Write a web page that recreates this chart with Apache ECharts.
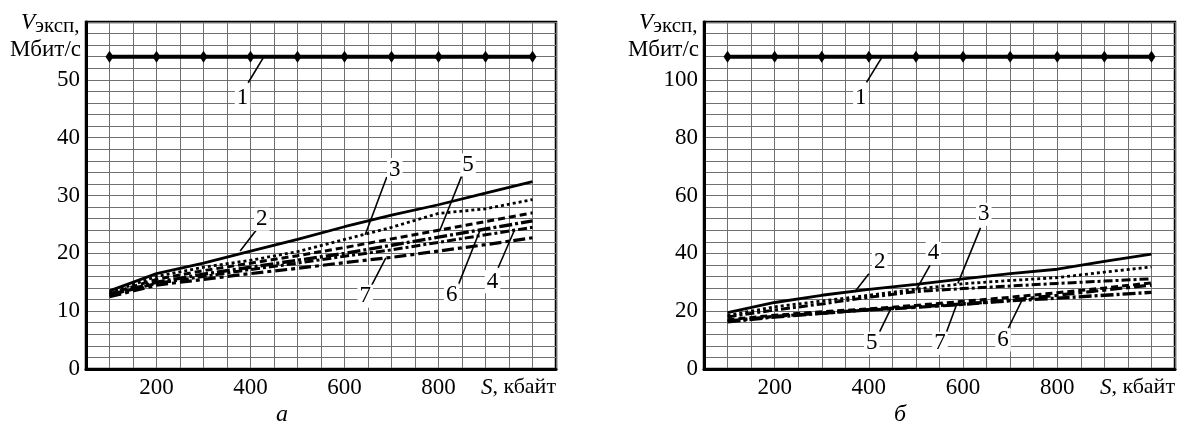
<!DOCTYPE html>
<html>
<head>
<meta charset="utf-8">
<script src="https://cdn.jsdelivr.net/npm/echarts@6/dist/echarts.min.js"></script>
<style>
html,body{margin:0;padding:0;background:#fff;}
#c{width:1180px;height:423px;}
</style>
</head>
<body>
<div id="c"></div>
<script>
// ---------- data ----------
const sizes = [100, 200, 300, 400, 500, 600, 700, 800, 900, 1000];   // S, кбайт

// panel "а"
const a1 = [54, 54, 54, 54, 54, 54, 54, 54, 54, 54];
const a2 = [13.5, 16.5, 18.3, 20.4, 22.4, 24.6, 26.6, 28.4, 30.4, 32.4];
const a3 = [13.2, 16.0, 17.6, 18.8, 20.3, 22.4, 24.5, 26.9, 27.7, 29.3];
const a4 = [12.8, 14.8, 16.0, 17.2, 18.3, 19.5, 20.6, 21.9, 23.2, 24.5];
const a5 = [13.0, 15.5, 17.0, 18.3, 19.6, 21.0, 22.5, 24.0, 25.5, 27.0];
const a6 = [12.8, 15.0, 16.4, 17.6, 18.8, 20.0, 21.4, 22.8, 24.2, 25.6];
const a7 = [12.5, 14.5, 15.5, 16.5, 17.4, 18.4, 19.3, 20.4, 21.5, 22.7];

// panel "б"
const b1 = [108, 108, 108, 108, 108, 108, 108, 108, 108, 108];
const b2 = [19.5, 23.0, 25.5, 27.5, 29.3, 31.2, 33.0, 34.5, 37.2, 39.7];
const b3 = [18.5, 21.5, 23.5, 25.5, 27.6, 29.5, 30.6, 31.6, 33.5, 35.3];
const b4 = [18.0, 20.4, 22.5, 24.8, 26.8, 27.8, 28.7, 29.6, 30.4, 31.2];
const b5 = [17.0, 18.6, 19.8, 20.8, 22.0, 23.4, 24.8, 26.4, 28.0, 29.8];
const b6 = [16.3, 18.0, 19.3, 20.5, 21.5, 22.5, 23.6, 24.5, 25.5, 26.5];
const b7 = [16.6, 18.2, 19.3, 20.4, 21.3, 22.3, 23.8, 25.5, 27.3, 29.0];

// tick labels
const xTickLabels = [200, 400, 600, 800];
const yTickLabelsA = [0, 10, 20, 30, 40, 50];
const yTickLabelsB = [0, 20, 40, 60, 80, 100];

// callouts: [text, labelX, labelY, leaderStartX, leaderStartY, tipX, tipY] (data coords)
const calloutsA = [
  ['1', 383, 46.8, 395, 49.5, 427, 53.8],
  ['2', 424, 25.9, 412, 24.0, 378, 20.4],
  ['3', 707, 34.5, 690, 33.2, 644, 23.2],
  ['4', 915, 15.1, 927, 17.5, 961, 23.9],
  ['5', 863, 35.3, 849, 33.3, 803, 24.0],
  ['6', 828, 12.8, 842, 14.5, 888, 23.9],
  ['7', 644, 12.6, 658, 14.5, 688, 19.2]
];
const calloutsB = [
  ['1', 383, 93.6, 395, 99.1, 427, 107.6],
  ['2', 423, 37.1, 400, 32.9, 370, 26.6],
  ['3', 644, 53.5, 637, 48.8, 589, 29.6],
  ['4', 537, 40.0, 530, 35.9, 500, 27.2],
  ['5', 406, 8.9, 423, 12.9, 448, 21.3],
  ['6', 685, 10.0, 696, 14.1, 726, 24.1],
  ['7', 551, 8.9, 565, 12.9, 586, 22.1]
];

// ---------- styles ----------
const FONT = "'Liberation Serif','DejaVu Serif',serif";
const TXT = '#000';
const GRID_A = {left: 86, top: 22, width: 470, height: 347};
const GRID_B = {left: 704, top: 22, width: 471, height: 347};

const styles = {
  s2: {type: 'solid', width: 2.8},
  s3: {type: [3, 3], width: 2.8},
  s4: {type: [9, 3, 3, 3], width: 3},
  s5: {type: [7, 4], width: 3},
  s6: {type: [13, 3, 3, 3], width: 3.4},
  s7: {type: [12, 4, 4, 4], width: 3.2}
};

function pairs(vals) { return sizes.map((s, i) => [s, vals[i]]); }

function lineSeries(idx, vals, st) {
  return {
    type: 'line', xAxisIndex: idx, yAxisIndex: idx, data: pairs(vals),
    showSymbol: false, symbol: 'none', silent: true, animation: false, z: 3,
    lineStyle: Object.assign({color: '#000', cap: 'butt'}, st)
  };
}
function markerSeries(idx, vals) {
  return {
    type: 'line', xAxisIndex: idx, yAxisIndex: idx, data: pairs(vals),
    symbol: 'diamond', symbolSize: [8, 12], showSymbol: true, silent: true, animation: false, z: 4,
    itemStyle: {color: '#000'}, lineStyle: {color: '#000', width: 4}
  };
}
function calloutSeries(idx, list) {
  return {
    type: 'custom', xAxisIndex: idx, yAxisIndex: idx, data: list.map(c => [c[1], c[2], c[3], c[4], c[5], c[6], c[0]]),
    encode: {x: [0, 2, 4], y: [1, 3, 5]}, clip: false, silent: true, animation: false, z: 10,
    renderItem: function (params, api) {
      const lp = api.coord([api.value(0), api.value(1)]);
      const sp = api.coord([api.value(2), api.value(3)]);
      const tp = api.coord([api.value(4), api.value(5)]);
      const txt = list[params.dataIndex][0];
      return {
        type: 'group',
        children: [
          {type: 'line', shape: {x1: sp[0], y1: sp[1], x2: tp[0], y2: tp[1]},
           style: {stroke: '#000', lineWidth: 1.6}},
          {type: 'text', x: lp[0], y: lp[1],
           style: {text: txt, fontSize: 23, fontFamily: FONT, fill: TXT, align: 'center',
                   verticalAlign: 'middle', backgroundColor: '#fff', padding: [0, 2, 0, 2]}}
        ]
      };
    }
  };
}

function xAxisCfg(idx) {
  return {
    type: 'value', gridIndex: idx, min: 50, max: 1050, interval: 50,
    axisLine: {show: true, onZero: false, lineStyle: {color: '#000', width: 3}},
    axisTick: {show: false},
    splitLine: {show: true, lineStyle: {color: '#707070', width: 1}},
    axisLabel: {
      margin: 7, fontSize: 23, fontFamily: FONT, color: TXT,
      formatter: v => (xTickLabels.indexOf(v) >= 0 ? String(v) : '')
    },
    name: '{i|S}, кбайт', nameLocation: 'end', nameGap: 0,
    nameTextStyle: {
      align: 'right', verticalAlign: 'top', padding: [7, 0, 0, 0],
      fontSize: 22, fontFamily: FONT, color: TXT,
      rich: {i: {fontStyle: 'italic', fontSize: 23, fontFamily: FONT, color: TXT}}
    }
  };
}
function yAxisCfg(idx, max, interval, labels) {
  return {
    type: 'value', gridIndex: idx, min: 0, max: max, interval: interval,
    axisLine: {show: true, onZero: false, lineStyle: {color: '#000', width: 3}},
    axisTick: {show: false},
    splitLine: {show: true, lineStyle: {color: '#707070', width: 1}},
    axisLabel: {
      margin: 6, fontSize: 23, fontFamily: FONT, color: TXT,
      formatter: v => (labels.indexOf(v) >= 0 ? String(v) : '')
    }
  };
}

function axisTitle(L, caption) {
  return [
    {type: 'text', x: L - 51, y: 22.5, style: {text: 'V', fontSize: 23, fontStyle: 'italic', fontFamily: FONT, fill: TXT, align: 'right', verticalAlign: 'middle'}},
    {type: 'text', x: L - 51, y: 26, style: {text: 'эксп,', fontSize: 21, fontFamily: FONT, fill: TXT, align: 'left', verticalAlign: 'middle'}},
    {type: 'text', x: L - 5, y: 49.5, style: {text: 'Мбит/с', fontSize: 23, fontFamily: FONT, fill: TXT, align: 'right', verticalAlign: 'middle'}},
    {type: 'text', x: L + 196, y: 415, style: {text: caption, fontSize: 24, fontStyle: 'italic', fontFamily: FONT, fill: TXT, align: 'center', verticalAlign: 'middle'}}
  ];
}

const chart = echarts.init(document.getElementById('c'), null, {renderer: 'canvas'});
chart.setOption({
  animation: false,
  backgroundColor: '#fff',
  grid: [
    Object.assign({show: true, borderColor: '#000', borderWidth: 2.5, backgroundColor: 'transparent'}, GRID_A),
    Object.assign({show: true, borderColor: '#000', borderWidth: 2.5, backgroundColor: 'transparent'}, GRID_B)
  ],
  xAxis: [xAxisCfg(0), xAxisCfg(1)],
  yAxis: [yAxisCfg(0, 60, 2, yTickLabelsA), yAxisCfg(1, 120, 4, yTickLabelsB)],
  series: [
    markerSeries(0, a1),
    lineSeries(0, a2, styles.s2),
    lineSeries(0, a3, styles.s3),
    lineSeries(0, a4, styles.s4),
    lineSeries(0, a5, styles.s5),
    lineSeries(0, a6, styles.s6),
    lineSeries(0, a7, styles.s7),
    calloutSeries(0, calloutsA),
    markerSeries(1, b1),
    lineSeries(1, b2, styles.s2),
    lineSeries(1, b3, styles.s3),
    lineSeries(1, b4, styles.s4),
    lineSeries(1, b5, styles.s5),
    lineSeries(1, b6, styles.s6),
    lineSeries(1, b7, styles.s7),
    calloutSeries(1, calloutsB)
  ],
  graphic: axisTitle(GRID_A.left, 'а').concat(axisTitle(GRID_B.left, 'б'))
});
</script>
</body>
</html>
